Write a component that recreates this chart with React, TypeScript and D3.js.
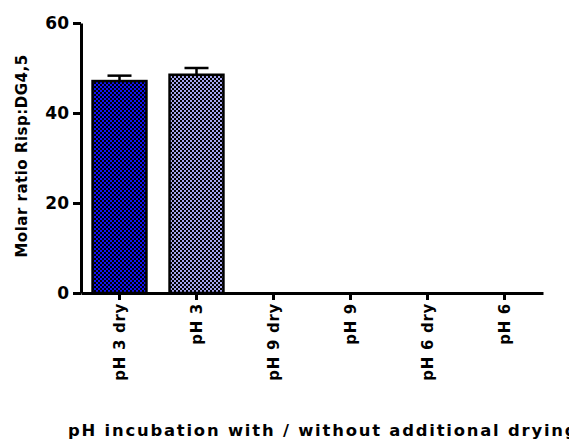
import React, { useEffect, useRef } from 'react';
import * as d3 from 'd3';

const categories = ['pH 3 dry', 'pH 3', 'pH 9 dry', 'pH 9', 'pH 6 dry', 'pH 6'];
const means = [47.1, 48.5, 0, 0, 0, 0];
const errors = [1.2, 1.5, 0, 0, 0, 0];
const barColors = ['#1414f5', '#a4a4ee', 'none', 'none', 'none', 'none'];
const yTicks = [0, 20, 40, 60];

const App = () => {
    const svgRef = useRef<SVGSVGElement>(null);

    useEffect(() => {
        const svg = d3.select(svgRef.current);
        svg.selectAll('*').remove();
        const width = 569;
        const height = 440;
        svg.attr('width', width).attr('height', height);

        const font = 'DejaVu Sans, sans-serif';
        const x = d3.scaleBand().domain(categories).range([81, 543]).paddingInner(0.3).paddingOuter(0.15);
        const y = d3.scaleLinear().domain([0, 60]).range([293, 23]);

        // checker patterns for the filled bars
        const defs = svg.append('defs');
        barColors.forEach((c, i) => {
            if (c === 'none') return;
            const p = defs.append('pattern')
                .attr('id', `chk${i}`)
                .attr('patternUnits', 'userSpaceOnUse')
                .attr('width', 4).attr('height', 4);
            p.append('rect').attr('width', 4).attr('height', 4).attr('fill', c);
            p.append('rect').attr('width', 2).attr('height', 2).attr('fill', '#000');
            p.append('rect').attr('x', 2).attr('y', 2).attr('width', 2).attr('height', 2).attr('fill', '#000');
        });

        const data = categories.map((c, i) => ({ cat: c, v: means[i], e: errors[i], i }));

        // error bars (upper only)
        const eb = svg.append('g');
        data.filter(d => d.v > 0).forEach(d => {
            const cx = x(d.cat)! + x.bandwidth() / 2;
            eb.append('line').attr('x1', cx).attr('x2', cx)
                .attr('y1', y(d.v)).attr('y2', y(d.v + d.e))
                .attr('stroke', '#000').attr('stroke-width', 2.5);
            eb.append('line').attr('x1', cx - 12).attr('x2', cx + 12)
                .attr('y1', y(d.v + d.e)).attr('y2', y(d.v + d.e))
                .attr('stroke', '#000').attr('stroke-width', 2.5);
        });

        svg.append('g').selectAll('rect')
            .data(data.filter(d => d.v > 0))
            .enter().append('rect')
            .attr('x', d => x(d.cat)!)
            .attr('y', d => y(d.v))
            .attr('width', x.bandwidth())
            .attr('height', d => y(0) - y(d.v))
            .attr('fill', d => `url(#chk${d.i})`)
            .attr('stroke', '#000')
            .attr('stroke-width', 2.5);

        // y axis
        const yAxis = svg.append('g')
            .attr('transform', 'translate(81,0)')
            .call(d3.axisLeft(y).tickValues(yTicks).tickSize(8).tickSizeOuter(0).tickPadding(4));
        yAxis.select('.domain').attr('stroke-width', 3);
        yAxis.selectAll('.tick line').attr('stroke-width', 3);
        yAxis.selectAll('.tick text')
            .attr('font-family', font).attr('font-weight', 'bold').attr('font-size', 17).attr('fill', '#000');

        // x axis
        const xAxis = svg.append('g')
            .attr('transform', 'translate(0,293)')
            .call(d3.axisBottom(x).tickSize(7).tickSizeOuter(0));
        xAxis.select('.domain').attr('stroke-width', 3);
        xAxis.selectAll('.tick line').attr('stroke-width', 3);
        xAxis.selectAll('.tick text')
            .attr('font-family', font).attr('font-weight', 'bold').attr('font-size', 15).attr('fill', '#000')
            .attr('letter-spacing', 0.7)
            .attr('transform', 'rotate(-90)')
            .attr('text-anchor', 'end')
            .attr('x', -10).attr('y', 0).attr('dy', '0.35em');

        svg.append('text')
            .attr('transform', 'translate(27,156) rotate(-90)')
            .attr('text-anchor', 'middle')
            .attr('font-family', font).attr('font-weight', 'bold').attr('font-size', 15)
            .attr('letter-spacing', 0.5)
            .text('Molar ratio Risp:DG4,5');

        svg.append('text')
            .attr('x', 68).attr('y', 436)
            .attr('font-family', font).attr('font-weight', 'bold').attr('font-size', 16.4)
            .attr('letter-spacing', 1.8)
            .text('pH incubation with / without additional drying');
    }, []);

    return <svg ref={svgRef} style={{ position: 'absolute', left: 0, top: 0 }}></svg>;
};

export default App;
